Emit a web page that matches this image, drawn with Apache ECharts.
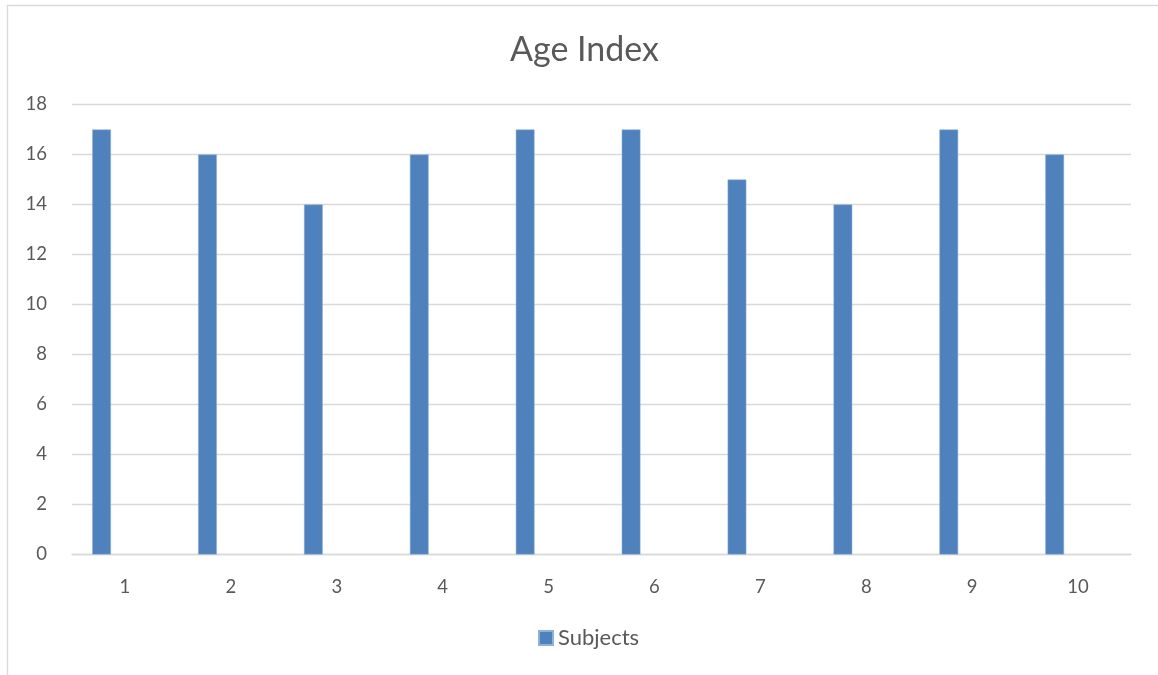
<!DOCTYPE html>
<html>
<head>
<meta charset="utf-8">
<style>
  html, body { margin: 0; padding: 0; background: #fff; }
  #chart { width: 1158px; height: 675px; }
</style>
<script src="https://cdn.jsdelivr.net/npm/echarts@6/dist/echarts.min.js"></script>
</head>
<body>
<div id="chart"></div>
<script>
// Age index per subject
const chartTitle = 'Age Index';
const categories = ['1', '2', '3', '4', '5', '6', '7', '8', '9', '10'];
const subjects = [17, 16, 14, 16, 17, 17, 15, 14, 17, 16];
// empty companion series: keeps the cluster slot so each bar sits left of its category centre
const companion = [null, null, null, null, null, null, null, null, null, null];
const yTicks = { min: 0, max: 18, interval: 2 };

const textColor = '#595959';
const gridColor = '#d9d9d9';
const barColor = '#4f81bd';
const fontFamily = 'Lato, "Open Sans", sans-serif';

const chart = echarts.init(document.getElementById('chart'));
chart.setOption({
  animation: false,
  backgroundColor: '#fff',
  graphic: [{
    type: 'rect',
    silent: true,
    shape: { x: 7.5, y: 5.5, width: 1200, height: 720 },
    style: { fill: 'none', stroke: gridColor, lineWidth: 1.3 }
  }],
  title: {
    text: chartTitle,
    left: 505,
    top: 28,
    textStyle: { color: textColor, fontFamily: fontFamily, fontSize: 34, fontWeight: 'normal' }
  },
  legend: {
    data: ['Subjects'],
    bottom: 21,
    left: 533,
    itemWidth: 14,
    itemHeight: 14,
    itemGap: 6,
    icon: 'rect',
    textStyle: { color: textColor, fontFamily: fontFamily, fontSize: 22 }
  },
  grid: { left: 72, right: 27, top: 104.5, bottom: 120.5, containLabel: false },
  xAxis: {
    type: 'category',
    data: categories,
    axisLine: { lineStyle: { color: gridColor, width: 1.3 } },
    axisTick: { show: false },
    axisLabel: { color: textColor, fontFamily: fontFamily, fontSize: 18.5, margin: 23 }
  },
  yAxis: {
    type: 'value',
    min: yTicks.min,
    max: yTicks.max,
    interval: yTicks.interval,
    axisLine: { show: false },
    axisTick: { show: false },
    splitLine: { lineStyle: { color: gridColor, width: 1.3 } },
    axisLabel: { color: textColor, fontFamily: fontFamily, fontSize: 18.5, margin: 25 }
  },
  series: [
    {
      name: 'Subjects',
      type: 'bar',
      data: subjects,
      barWidth: 18.7,
      barGap: '150%',
      itemStyle: { color: barColor, borderColor: '#8fb0d8', borderWidth: 0.5 }
    },
    {
      name: 'companion',
      type: 'bar',
      data: companion,
      barWidth: 18.7,
      itemStyle: { color: barColor }
    }
  ]
});
</script>
</body>
</html>
